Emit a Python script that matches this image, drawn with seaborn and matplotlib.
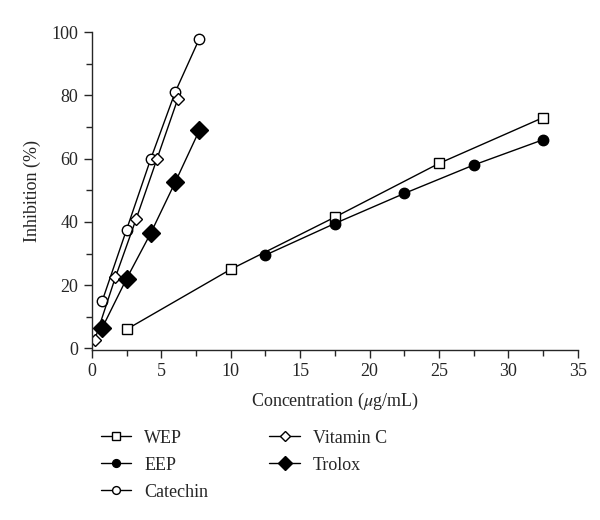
import matplotlib.pyplot as plt
import seaborn as sns
import pandas as pd

# Datos
wep_x = [2.5, 10, 17.5, 25, 32.5]
wep_y = [6, 25, 41.5, 58.5, 73]
eep_x = [12.5, 17.5, 22.5, 27.5, 32.5]
eep_y = [29.5, 39.5, 49, 58, 66]
cat_x = [0.75, 2.5, 4.25, 6, 7.75]
cat_y = [15, 37.5, 60, 81, 98]
vitc_x = [0.2, 1.7, 3.2, 4.7, 6.2]
vitc_y = [2.5, 22.5, 41, 60, 79]
trolox_x = [0.75, 2.5, 4.25, 6, 7.75]
trolox_y = [6.5, 22, 36.5, 52.5, 69]

series = [
    ('WEP', wep_x, wep_y, 's', 'white', 7.5),
    ('EEP', eep_x, eep_y, 'o', 'black', 7.5),
    ('Catechin', cat_x, cat_y, 'o', 'white', 7.5),
    ('Vitamin C', vitc_x, vitc_y, 'D', 'white', 6.5),
    ('Trolox', trolox_x, trolox_y, 'D', 'black', 9),
]
#--------------------------------------------------------------------------------------------

sns.set_style('ticks')
plt.rcParams['font.family'] = ['Liberation Serif', 'DejaVu Serif']
plt.rcParams['mathtext.fontset'] = 'stix'

fig = plt.figure(figsize=(6, 5.2), dpi=100)
ax = fig.add_axes([0.153, 0.327, 0.81, 0.611])

for name, xs, ys, mk, fc, ms in series:
    df = pd.DataFrame({'x': xs, 'y': ys})
    sns.lineplot(data=df, x='x', y='y', ax=ax, color='black', linewidth=1,
                 marker=mk, markersize=ms, markerfacecolor=fc,
                 markeredgecolor='black', markeredgewidth=1, label=name)

ax.set_xlim(0, 35)
ax.set_ylim(-0.5, 100)
ax.set_xticks(range(0, 36, 5))
ax.set_xticks([x + 2.5 for x in range(0, 35, 5)], minor=True)
ax.set_yticks(range(0, 101, 20))
ax.set_yticks(range(10, 100, 20), minor=True)
ax.tick_params(axis='both', which='major', length=6, width=1, labelsize=13, direction='out')
ax.tick_params(axis='both', which='minor', length=4, width=1, direction='out')
for s in ['left', 'bottom']:
    ax.spines[s].set_linewidth(1)
sns.despine(ax=ax)

ax.set_xlabel(r'Concentration ($\mu$g/mL)', fontsize=13, labelpad=8)
ax.set_ylabel('Inhibition (%)', fontsize=13, labelpad=8)

ax.legend(loc='upper left', bbox_to_anchor=(-0.015, -0.2), ncol=2, frameon=False,
          fontsize=13, handlelength=1.7, columnspacing=3.4, labelspacing=0.55,
          handletextpad=0.7, markerscale=0.75)

plt.savefig('out.png', dpi=100)
